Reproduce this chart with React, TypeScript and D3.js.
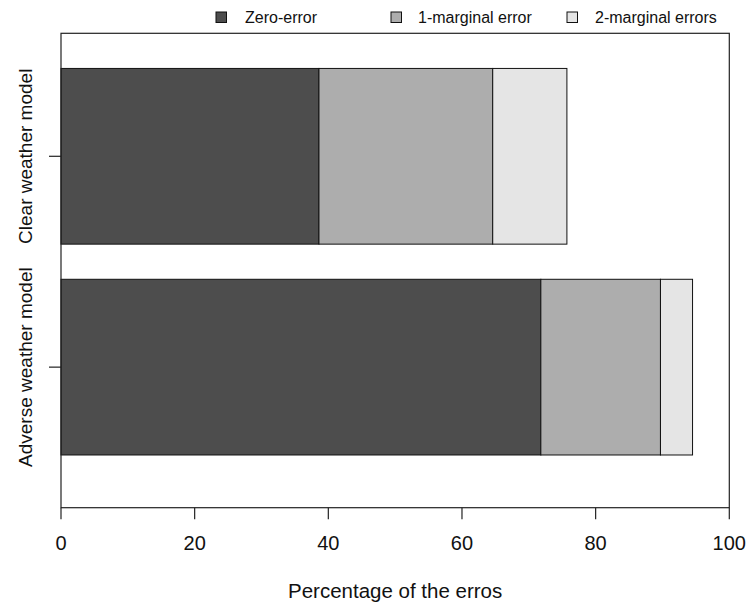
import React from 'react';
import * as d3 from 'd3';

// categories from bottom to top, as R draws a horizontal barplot
const categories = ['Adverse weather model', 'Clear weather model'];
const series_names = ['Zero-error', '1-marginal error', '2-marginal errors'];
const zero_error = [71.8, 38.6];
const one_marginal = [17.9, 26.0];
const two_marginal = [4.8, 11.1];
const x_ticks = [0, 20, 40, 60, 80, 100];

const colors = ['#4D4D4D', '#ADADAD', '#E5E5E5'];

export default function App() {
  const width = 746;
  const height = 607;
  const plot = {left: 61, right: 729.3, top: 33.3, bottom: 507.7};

  const x_scale = d3.scaleLinear().domain([0, 100]).range([plot.left, plot.right]);
  // bar i spans [0.2 + 1.2 i, 1.2 + 1.2 i], ylim c(0, 2.5) widened by 4%
  const y_scale = d3.scaleLinear().domain([-0.1, 2.6]).range([plot.bottom, plot.top]);

  const rows = categories.map((c, i) => ({
    category: c,
    'Zero-error': zero_error[i],
    '1-marginal error': one_marginal[i],
    '2-marginal errors': two_marginal[i],
  }));
  const stacked = d3.stack().keys(series_names)(rows as any);

  const font = '"Liberation Sans", Arial, sans-serif';

  // legend entries
  const legend_box = [216, 391, 567];
  const legend_text = [245, 418, 595];

  return (
    <svg
      width={width}
      height={height}
      style={{position: 'absolute', left: 0, top: 0, background: '#fff'}}
      fontFamily={font}
    >
      {stacked.map((layer, s) =>
        layer.map((d, i) => {
          const y0 = y_scale(1.2 + i * 1.2);
          const y1 = y_scale(0.2 + i * 1.2);
          return (
            <rect
              key={`${s}-${i}`}
              x={x_scale(d[0])}
              y={y0}
              width={x_scale(d[1]) - x_scale(d[0])}
              height={y1 - y0}
              fill={colors[s]}
              stroke="#111"
              strokeWidth={1}
            />
          );
        })
      )}

      {/* box */}
      <rect
        x={plot.left}
        y={plot.top}
        width={plot.right - plot.left}
        height={plot.bottom - plot.top}
        fill="none"
        stroke="#222"
        strokeWidth={1.2}
      />

      {/* x axis */}
      {x_ticks.map((t) => (
        <g key={t}>
          <line x1={x_scale(t)} x2={x_scale(t)} y1={plot.bottom} y2={plot.bottom + 11.5} stroke="#222" strokeWidth={1.2} />
          <text x={x_scale(t)} y={550} textAnchor="middle" fontSize={20} fill="#111">
            {t}
          </text>
        </g>
      ))}
      <text x={(plot.left + plot.right) / 2} y={598} textAnchor="middle" fontSize={20.5} fill="#111">
        Percentage of the erros
      </text>

      {/* y axis */}
      {categories.map((c, i) => {
        const yc = y_scale(0.7 + i * 1.2);
        return (
          <g key={c}>
            <line x1={plot.left - 12} x2={plot.left} y1={yc} y2={yc} stroke="#222" strokeWidth={1.2} />
            <text
              transform={`translate(32,${yc}) rotate(-90)`}
              textAnchor="middle"
              fontSize={19}
              fill="#111"
            >
              {c}
            </text>
          </g>
        );
      })}

      {/* legend */}
      {series_names.map((name, s) => (
        <g key={name}>
          <rect x={legend_box[s]} y={12} width={10.5} height={10.5} fill={colors[s]} stroke="#111" strokeWidth={1} />
          <text x={legend_text[s]} y={23} fontSize={16} fill="#111">
            {name}
          </text>
        </g>
      ))}
    </svg>
  );
}
